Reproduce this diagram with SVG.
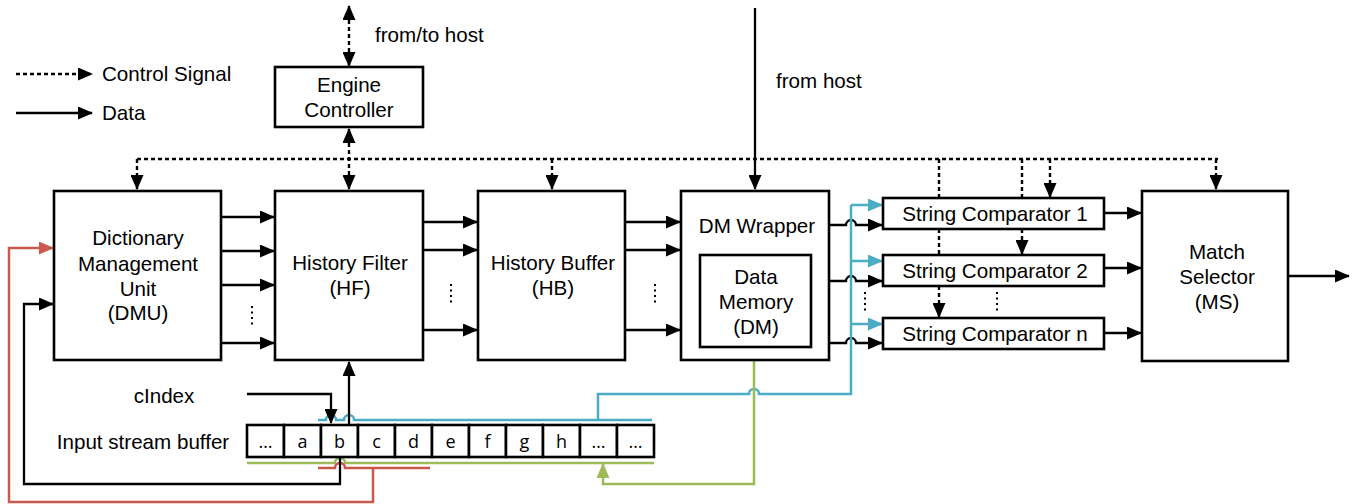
<svg xmlns="http://www.w3.org/2000/svg" width="1356" height="504" viewBox="0 0 1356 504">
<style>
text{font-family:"Liberation Sans",Arial,sans-serif;font-size:20.6px;fill:#000}
.c{text-anchor:middle}
.cell{font-family:"Open Sans","Liberation Sans",sans-serif;font-size:18px;text-anchor:middle}
.box{fill:#fff;stroke:#000;stroke-width:2.6}
.ln{fill:none;stroke:#000;stroke-width:2.3}
.da{fill:none;stroke:#000;stroke-width:2.4;stroke-dasharray:4,3}
.dots{fill:none;stroke:#000;stroke-width:2;stroke-dasharray:2,3.5}
.bl{fill:none;stroke:#4BACC6;stroke-width:2.5}
.gr{fill:none;stroke:#9BBB59;stroke-width:2.5}
.rd{fill:none;stroke:#C9594D;stroke-width:2.5}
</style>
<defs>
<marker id="a" markerUnits="userSpaceOnUse" markerWidth="15" markerHeight="13" refX="14" refY="6.5" orient="auto-start-reverse"><path d="M0,0 L15,6.5 L0,13 z" fill="#000"/></marker>
<marker id="ab" markerUnits="userSpaceOnUse" markerWidth="15" markerHeight="13" refX="14" refY="6.5" orient="auto"><path d="M0,0 L15,6.5 L0,13 z" fill="#4BACC6"/></marker>
<marker id="ag" markerUnits="userSpaceOnUse" markerWidth="15" markerHeight="13" refX="14" refY="6.5" orient="auto"><path d="M0,0 L15,6.5 L0,13 z" fill="#9BBB59"/></marker>
<marker id="ar" markerUnits="userSpaceOnUse" markerWidth="15" markerHeight="13" refX="14" refY="6.5" orient="auto"><path d="M0,0 L15,6.5 L0,13 z" fill="#C9594D"/></marker>
</defs>

<g id="legend">
<line class="da" x1="16" y1="74" x2="92" y2="74" marker-end="url(#a)"/>
<text x="102" y="81">Control Signal</text>
<line class="ln" x1="16" y1="113" x2="92" y2="113" marker-end="url(#a)"/>
<text x="102" y="120">Data</text>
</g>

<g id="connectors">
<line class="da" x1="349" y1="6" x2="349" y2="66" marker-start="url(#a)" marker-end="url(#a)"/>
<line class="da" x1="349" y1="129" x2="349" y2="189" marker-start="url(#a)" marker-end="url(#a)"/>
<line class="da" x1="137" y1="159" x2="1218" y2="159"/>
<line class="da" x1="137" y1="159" x2="137" y2="189" marker-end="url(#a)"/>
<line class="da" x1="552" y1="159" x2="552" y2="189" marker-end="url(#a)"/>
<line class="da" x1="1216" y1="159" x2="1216" y2="189" marker-end="url(#a)"/>
<line class="da" x1="1050" y1="159" x2="1050" y2="197" marker-end="url(#a)"/>
<line class="da" x1="1022" y1="159" x2="1022" y2="198"/>
<line class="da" x1="1022" y1="229" x2="1022" y2="254" marker-end="url(#a)"/>
<line class="da" x1="939" y1="159" x2="939" y2="198"/>
<line class="da" x1="939" y1="229" x2="939" y2="255"/>
<line class="da" x1="939" y1="286" x2="939" y2="317" marker-end="url(#a)"/>
<line class="ln" x1="755" y1="8" x2="755" y2="189" marker-end="url(#a)"/>
<line class="ln" x1="222" y1="217" x2="274" y2="217" marker-end="url(#a)"/>
<line class="ln" x1="222" y1="251" x2="274" y2="251" marker-end="url(#a)"/>
<line class="ln" x1="222" y1="285" x2="274" y2="285" marker-end="url(#a)"/>
<line class="ln" x1="222" y1="343" x2="274" y2="343" marker-end="url(#a)"/>
<line class="dots" x1="252" y1="306" x2="252" y2="325"/>
<line class="ln" x1="423" y1="222" x2="477" y2="222" marker-end="url(#a)"/>
<line class="ln" x1="423" y1="250" x2="477" y2="250" marker-end="url(#a)"/>
<line class="ln" x1="423" y1="330" x2="477" y2="330" marker-end="url(#a)"/>
<line class="dots" x1="451" y1="284" x2="451" y2="304"/>
<line class="ln" x1="625" y1="222" x2="680" y2="222" marker-end="url(#a)"/>
<line class="ln" x1="625" y1="250" x2="680" y2="250" marker-end="url(#a)"/>
<line class="ln" x1="625" y1="330" x2="680" y2="330" marker-end="url(#a)"/>
<line class="dots" x1="655" y1="284" x2="655" y2="304"/>
<path class="ln" d="M829,225 H846 A5,5 0 0 1 856,225 H882" marker-end="url(#a)"/>
<path class="ln" d="M829,281 H846 A5,5 0 0 1 856,281 H882" marker-end="url(#a)"/>
<path class="ln" d="M829,343 H846 A5,5 0 0 1 856,343 H882" marker-end="url(#a)"/>
<line class="dots" x1="865" y1="292" x2="865" y2="312"/>
<line class="dots" x1="997" y1="292" x2="997" y2="312"/>
<line class="ln" x1="1104" y1="213" x2="1141" y2="213" marker-end="url(#a)"/>
<line class="ln" x1="1104" y1="268" x2="1141" y2="268" marker-end="url(#a)"/>
<line class="ln" x1="1104" y1="333" x2="1141" y2="333" marker-end="url(#a)"/>
<line class="ln" x1="1288" y1="276" x2="1349" y2="276" marker-end="url(#a)"/>
<path class="bl" d="M318,420 H326 A5,5 0 0 1 336,420 H344 A5,5 0 0 1 354,420 H652"/>
<path class="bl" d="M598,420 V394 H749 A5,5 0 0 1 759,394 H851 V205"/>
<line class="bl" x1="851" y1="205" x2="882" y2="205" marker-end="url(#ab)"/>
<line class="bl" x1="851" y1="261" x2="882" y2="261" marker-end="url(#ab)"/>
<line class="bl" x1="851" y1="324" x2="882" y2="324" marker-end="url(#ab)"/>
<path class="ln" d="M247,394 H331 V423" marker-end="url(#a)"/>
<line class="ln" x1="349" y1="425" x2="349" y2="362" marker-end="url(#a)"/>
<path class="gr" d="M247,463 H335 A5,5 0 0 1 345,463 H654"/>
<path class="gr" d="M754,361 V484 H603 V464" marker-end="url(#ag)"/>
<path class="rd" d="M318,468 H335 A5,5 0 0 1 345,468 H430"/>
<path class="rd" d="M373,468 V502 H9 V248 H53" marker-end="url(#ar)"/>
<path class="ln" d="M340,457 V484 H24 V304 H53" marker-end="url(#a)"/>
</g>

<g id="engine-controller">
<rect class="box" x="275" y="67" width="148" height="60"/>
<text class="c" x="349" y="92">Engine</text>
<text class="c" x="349" y="117">Controller</text>
</g>
<text x="375" y="42">from/to host</text>
<text x="776" y="88">from host</text>

<g id="dmu">
<rect class="box" x="54" y="191" width="167" height="169"/>
<text class="c" x="138" y="245">Dictionary</text>
<text class="c" x="138" y="271">Management</text>
<text class="c" x="138" y="296">Unit</text>
<text class="c" x="138" y="320">(DMU)</text>
</g>

<g id="hf">
<rect class="box" x="275" y="191" width="148" height="169"/>
<text class="c" x="350" y="270">History Filter</text>
<text class="c" x="350" y="295">(HF)</text>
</g>

<g id="hb">
<rect class="box" x="478" y="191" width="147" height="169"/>
<text class="c" x="553" y="270">History Buffer</text>
<text class="c" x="553" y="295">(HB)</text>
</g>

<g id="dm-wrapper">
<rect class="box" x="681" y="191" width="148" height="169"/>
<text class="c" x="757" y="233">DM Wrapper</text>
<rect class="box" x="700" y="255" width="111" height="92"/>
<text class="c" x="756" y="284">Data</text>
<text class="c" x="756" y="309">Memory</text>
<text class="c" x="756" y="334">(DM)</text>
</g>

<g id="sc1">
<rect class="box" x="883" y="198" width="221" height="31"/>
<text class="c" x="995" y="221">String Comparator 1</text>
</g>
<g id="sc2">
<rect class="box" x="883" y="255" width="221" height="31"/>
<text class="c" x="995" y="278">String Comparator 2</text>
</g>
<g id="scn">
<rect class="box" x="883" y="318" width="221" height="31"/>
<text class="c" x="995" y="341">String Comparator n</text>
</g>

<g id="ms">
<rect class="box" x="1142" y="191" width="146" height="170"/>
<text class="c" x="1217" y="259">Match</text>
<text class="c" x="1217" y="284">Selector</text>
<text class="c" x="1217" y="309">(MS)</text>
</g>

<g id="input-buffer">
<text class="c" x="143" y="449">Input stream buffer</text>
<text class="c" x="164" y="403">cIndex</text>
<g class="box">
<rect x="247" y="425" width="37" height="32"/>
<rect x="284" y="425" width="37" height="32"/>
<rect x="321" y="425" width="37" height="32"/>
<rect x="358" y="425" width="37" height="32"/>
<rect x="395" y="425" width="37" height="32"/>
<rect x="432" y="425" width="37" height="32"/>
<rect x="469" y="425" width="37" height="32"/>
<rect x="506" y="425" width="37" height="32"/>
<rect x="543" y="425" width="37" height="32"/>
<rect x="580" y="425" width="37" height="32"/>
<rect x="617" y="425" width="37" height="32"/>
</g>
<text class="cell" x="265.5" y="448">…</text>
<text class="cell" x="302.5" y="448">a</text>
<text class="cell" x="339.5" y="448">b</text>
<text class="cell" x="376.5" y="448">c</text>
<text class="cell" x="413.5" y="448">d</text>
<text class="cell" x="450.5" y="448">e</text>
<text class="cell" x="487.5" y="448">f</text>
<text class="cell" x="524.5" y="448">g</text>
<text class="cell" x="561.5" y="448">h</text>
<text class="cell" x="598.5" y="448">…</text>
<text class="cell" x="635.5" y="448">…</text>
</g>
</svg>
